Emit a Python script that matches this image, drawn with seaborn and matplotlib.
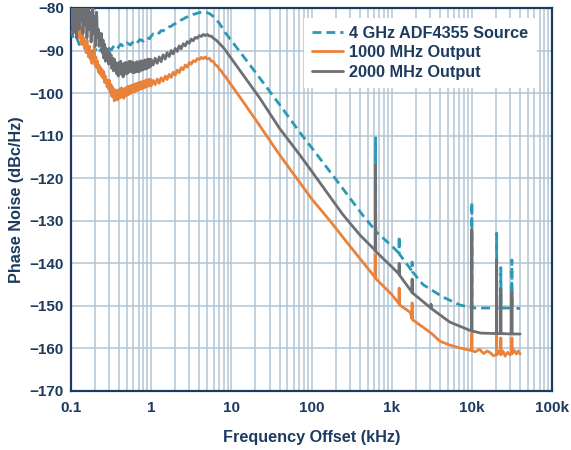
import matplotlib
matplotlib.use("Agg")
import matplotlib.pyplot as plt
from matplotlib.ticker import FixedLocator, NullFormatter
import seaborn as sns
import pandas as pd

# ---------------- data (frequency offset in kHz, phase noise in dBc/Hz) ----------------
# low-offset sample frequencies (0.1 kHz ... ~1 kHz) for the two output traces
lf_f = [0.100, 0.102, 0.104, 0.106, 0.108, 0.110, 0.112, 0.114, 0.117, 0.119,
        0.122, 0.124, 0.127, 0.130, 0.132, 0.135, 0.138, 0.141, 0.145, 0.148,
        0.151, 0.155, 0.158, 0.162, 0.166, 0.170, 0.174, 0.178, 0.182, 0.186,
        0.191, 0.195, 0.200, 0.204, 0.209, 0.214, 0.219, 0.224, 0.229, 0.234,
        0.240, 0.245, 0.251, 0.257, 0.263, 0.269, 0.275, 0.282, 0.288, 0.295,
        0.302, 0.309, 0.316, 0.324, 0.331, 0.339, 0.347, 0.355, 0.363, 0.372,
        0.380, 0.389, 0.398, 0.407, 0.417, 0.427, 0.437, 0.447, 0.457, 0.468,
        0.479, 0.490, 0.501, 0.513, 0.525, 0.537, 0.550, 0.562, 0.575, 0.589,
        0.603, 0.617, 0.631, 0.646, 0.661, 0.676, 0.692, 0.708, 0.724, 0.741,
        0.759, 0.776, 0.794, 0.813, 0.832, 0.851, 0.871, 0.891, 0.912, 0.933,
        0.955, 0.977]
# low-offset sample frequencies for the (dashed) source trace
src_lf_f = [0.100, 0.108, 0.117, 0.127, 0.138, 0.151, 0.166, 0.182, 0.200, 0.219,
            0.240, 0.263, 0.288, 0.316, 0.347, 0.380, 0.417, 0.457, 0.501, 0.550,
            0.603, 0.661, 0.724, 0.794, 0.871, 0.955]
# mid-offset sample frequencies (1 kHz ... ~8.4 kHz)
mf_f = [1.00, 1.06, 1.12, 1.19, 1.26, 1.33, 1.41, 1.50, 1.58, 1.68, 1.78, 1.88, 2.00,
        2.11, 2.24, 2.37, 2.51, 2.66, 2.82, 2.99, 3.16, 3.35, 3.55, 3.76, 3.98, 4.22,
        4.47, 4.73, 5.01, 5.31, 5.62, 5.96, 6.31, 6.68, 7.08, 7.50, 7.94, 8.41]

# 4 GHz ADF4355 source
src_lf = [-85.0, -87.3, -86.8, -88.6, -88.0, -89.5, -89.0, -90.4, -89.6, -90.6,
          -89.5, -90.2, -89.2, -89.9, -88.8, -89.5, -88.5, -89.1, -88.2, -88.7,
          -87.8, -88.3, -87.4, -87.8, -86.9, -87.2]
src_mf = [-86.6, -86.1, -86.3, -85.8, -85.9, -85.3, -85.4, -84.9, -84.9, -84.4, -84.3, -83.9, -83.7,
          -83.3, -83.2, -82.8, -82.6, -82.3, -82.1, -81.9, -81.7, -81.5, -81.4, -81.2, -81.1, -81.0,
          -81.0, -81.0, -81.1, -81.3, -81.6, -82.0, -82.5, -83.0, -83.6, -84.3, -85.0, -85.8]
src_hf_f = [15, 22.7, 40, 72, 110, 200, 440,
            627, 630, 633, 1000, 1235, 1240, 1245, 1795, 1800, 1805, 2460, 4350, 7100,
            9950, 10000, 10050, 11000, 20300, 20400, 20500, 22900, 23000, 23100,
            31450, 31600, 31750, 40000]
src_hf = [-92.0, -96.5, -102.7, -109.3, -113.8, -120.2, -128.8,
          -132.3, -110.5, -132.5, -135.9, -137.6, -133.6, -137.8, -141.8, -139.7, -141.9, -145.0, -147.9, -149.8,
          -150.4, -125.6, -150.4, -150.5, -150.5, -132.9, -150.5, -150.5, -141.0, -150.5,
          -150.5, -139.2, -150.5, -150.6]

# 1000 MHz output
o1_lf = [-79.0, -82.0, -80.0, -84.0, -81.0, -83.5, -80.5, -85.0, -82.0, -84.5,
         -86.0, -83.0, -87.0, -84.5, -86.5, -88.5, -85.5, -88.0, -87.0, -89.5,
         -88.0, -90.5, -87.5, -90.0, -91.5, -89.0, -92.0, -90.5, -93.0, -91.0,
         -92.5, -89.0, -93.5, -91.5, -94.0, -92.5, -95.0, -93.5, -95.5, -94.0,
         -96.0, -94.5, -96.5, -95.0, -97.5, -96.0, -97.0, -98.5, -97.0, -99.0,
         -97.0, -99.8, -98.0, -100.8, -98.6, -100.3, -101.8, -99.2, -101.4, -99.5,
         -101.6, -99.3, -101.2, -99.0, -101.0, -98.8, -100.9, -99.1, -101.2, -98.9,
         -100.6, -98.7, -100.5, -98.4, -100.3, -98.5, -100.1, -98.2, -99.9, -98.1,
         -99.7, -97.9, -99.6, -97.8, -99.4, -97.7, -99.3, -97.5, -99.1, -97.4,
         -99.0, -97.3, -98.8, -97.2, -98.7, -97.0, -98.5, -96.9, -98.4, -96.8,
         -98.2, -96.8]
o1_mf = [-98.3, -97.0, -98.0, -96.7, -97.7, -96.4, -97.2, -96.0, -96.8, -95.6, -96.3, -95.1, -95.8,
         -94.6, -95.2, -94.0, -94.5, -93.4, -93.9, -92.8, -93.2, -92.4, -92.6, -91.9, -92.1, -91.6,
         -91.9, -91.5, -92.0, -91.8, -92.5, -92.5, -93.4, -93.6, -94.4, -94.8, -95.6, -96.1]
o1_hf_f = [15, 22.7, 40, 100, 170, 300,
           627, 630, 633, 1000, 1235, 1240, 1245, 1700, 1795, 1800, 1805, 2460, 3200, 4000,
           5300, 7100, 9950, 10000, 10050, 11000, 12500, 14000, 15500, 17000, 18500,
           20300, 20400, 20500, 21500, 22900, 23000, 23100, 24500, 26000, 28000, 30000,
           31450, 31600, 31750, 33500, 36000, 38000, 40000]
o1_hf = [-102.8, -107.7, -114.5, -124.8, -130.0, -135.9,
         -143.4, -138.0, -143.6, -147.3, -149.5, -145.8, -149.7, -151.5, -153.0, -149.3, -153.2, -155.0, -156.6, -158.3,
         -159.2, -159.9, -160.5, -156.4, -160.5, -160.8, -160.2, -161.2, -160.6, -161.0, -161.7,
         -161.5, -157.0, -161.5, -160.7, -161.4, -157.5, -161.4, -160.6, -161.8, -160.9, -161.5,
         -161.2, -157.5, -161.2, -160.4, -161.3, -160.6, -161.3]

# 2000 MHz output
o2_lf = [-78.0, -83.0, -79.0, -86.0, -80.0, -77.0, -84.0, -81.0, -87.0, -79.0,
         -82.0, -78.0, -85.0, -80.0, -77.0, -83.0, -79.0, -86.0, -81.0, -78.0,
         -84.0, -80.0, -87.0, -82.0, -79.0, -85.0, -81.0, -88.0, -83.0, -80.0,
         -86.0, -82.0, -89.0, -84.0, -81.0, -87.0, -85.0, -89.0, -86.0, -88.0,
         -86.0, -90.5, -87.5, -91.8, -88.5, -92.5, -89.5, -92.2, -89.8, -93.2,
         -90.5, -92.8, -91.0, -94.2, -91.8, -94.8, -92.0, -94.5, -92.8, -95.5,
         -93.0, -96.0, -92.8, -95.2, -92.5, -95.6, -93.2, -96.2, -93.0, -95.4,
         -92.8, -95.5, -93.0, -95.3, -92.6, -95.0, -92.5, -94.8, -92.7, -95.2,
         -92.8, -95.2, -93.0, -95.0, -92.6, -94.9, -92.8, -95.0, -92.5, -94.6,
         -92.4, -94.6, -92.6, -94.4, -92.2, -94.3, -92.4, -94.2, -92.0, -94.0,
         -92.1, -93.8]
o2_mf = [-92.1, -93.4, -91.8, -93.0, -91.5, -92.6, -91.0, -92.0, -90.5, -91.4, -90.0, -90.8, -89.5,
         -90.2, -88.9, -89.6, -88.4, -88.9, -87.9, -88.3, -87.3, -87.7, -86.9, -87.1, -86.5, -86.7,
         -86.2, -86.5, -86.2, -86.6, -86.6, -87.1, -87.4, -87.8, -88.3, -88.8, -89.3, -89.9]
o2_hf_f = [15, 22.7, 40, 72, 100, 245, 400,
           627, 630, 633, 1000, 1235, 1240, 1245, 1795, 1800, 1805, 3080, 3100, 3120,
           5300, 9300, 9950, 10000, 10050, 13000, 20300, 20400, 20500, 22900, 23000, 23100,
           31450, 31600, 31750, 40000]
o2_hf = [-96.5, -101.2, -108.3, -114.6, -118.3, -128.5, -133.3,
         -137.0, -116.9, -137.2, -140.8, -142.5, -140.0, -142.7, -146.8, -143.7, -146.9, -150.5, -149.6, -150.6,
         -153.8, -155.7, -155.9, -132.0, -155.9, -156.4, -156.5, -139.2, -156.5, -156.5, -146.0, -156.5,
         -156.6, -146.7, -156.6, -156.6]

labels = ["4 GHz ADF4355 Source", "1000 MHz Output", "2000 MHz Output"]
xtick_vals = [0.1, 1, 10, 100, 1000, 10000, 100000]
xtick_labels = ["0.1", "1", "10", "100", "1k", "10k", "100k"]
ytick_vals = [-170, -160, -150, -140, -130, -120, -110, -100, -90, -80]

# ---------------- style ----------------
sns.set_theme(style="white")
plt.rcParams['font.family'] = ['Liberation Sans', 'DejaVu Sans']
navy = "#1d3a5f"
grid_c = "#b3c5d5"
c_src = "#2b98b6"
c_1g = "#e9823a"
c_2g = "#6e6f73"

fig = plt.figure(figsize=(5.71, 4.50), dpi=100)
ax = fig.add_axes([71 / 571, 59 / 450, 481 / 571, 383 / 450])

df_src = pd.DataFrame({"f": src_lf_f + mf_f + src_hf_f, "pn": src_lf + src_mf + src_hf})
df_1g = pd.DataFrame({"f": lf_f + mf_f + o1_hf_f, "pn": o1_lf + o1_mf + o1_hf})
df_2g = pd.DataFrame({"f": lf_f + mf_f + o2_hf_f, "pn": o2_lf + o2_mf + o2_hf})

lw = 2.0
sns.lineplot(data=df_src, x="f", y="pn", ax=ax, color=c_src, lw=lw, estimator=None,
             sort=False, label=labels[0], zorder=3)
ax.lines[-1].set_dashes((3.2, 1.8))
sns.lineplot(data=df_1g, x="f", y="pn", ax=ax, color=c_1g, lw=lw, estimator=None,
             sort=False, label=labels[1], zorder=4)
sns.lineplot(data=df_2g, x="f", y="pn", ax=ax, color=c_2g, lw=lw, estimator=None,
             sort=False, label=labels[2], zorder=5)

ax.set_xscale("log")
ax.set_xlim(0.1, 100000)
ax.set_ylim(-170, -80)
ax.xaxis.set_major_locator(FixedLocator(xtick_vals))
minors = [m * d for d in [0.1, 1, 10, 100, 1000, 10000] for m in range(2, 10)]
ax.xaxis.set_minor_locator(FixedLocator(minors))
ax.xaxis.set_minor_formatter(NullFormatter())
ax.set_xticklabels(xtick_labels)
ax.set_yticks(ytick_vals)
ax.set_yticklabels(["\u2212" + str(abs(v)) for v in ytick_vals])

ax.grid(True, which="both", axis="x", color=grid_c, lw=1.1, zorder=0)
ax.grid(True, which="major", axis="y", color=grid_c, lw=1.1, zorder=0)
ax.set_axisbelow(True)

for s in ax.spines.values():
    s.set_color(navy)
    s.set_linewidth(1.6)

ax.tick_params(axis="both", which="both", length=0, colors=navy, labelsize=11)
ax.tick_params(axis="x", pad=7)
ax.tick_params(axis="y", pad=5)
for t in ax.get_xticklabels() + ax.get_yticklabels():
    t.set_fontweight("bold")

ax.set_xlabel("Frequency Offset (kHz)", fontsize=11.7, fontweight="bold", color=navy, labelpad=11)
ax.set_ylabel("Phase Noise (dBc/Hz)", fontsize=11.7, fontweight="bold", color=navy, labelpad=4)

leg = ax.legend(loc="upper right", bbox_to_anchor=(0.985, 0.996), frameon=True, fancybox=False,
                framealpha=1.0, facecolor="white", edgecolor="none", fontsize=11.7,
                handlelength=1.9, handletextpad=0.4, labelspacing=0.27, borderpad=0.5)
for txt in leg.get_texts():
    txt.set_color(navy)
    txt.set_fontweight("bold")
leg.set_zorder(10)

fig.savefig("out.png", dpi=100)
